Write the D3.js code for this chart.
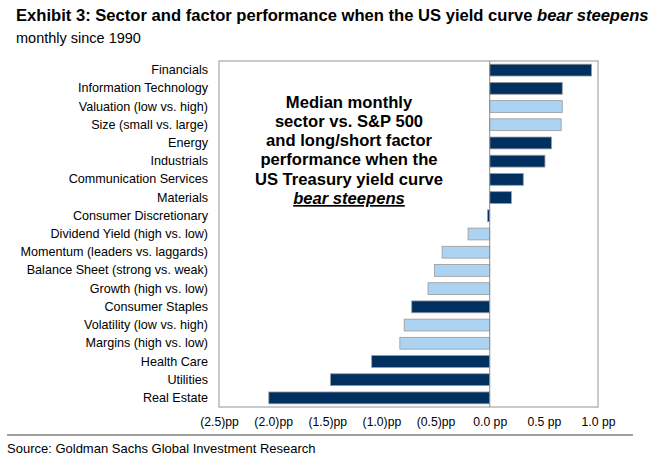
<!DOCTYPE html>
<html><head><meta charset="utf-8">
<script src="https://cdn.jsdelivr.net/npm/d3@7"></script>
<style>body{margin:0;background:#fff;} svg{display:block;font-family:"Liberation Sans",Arial,sans-serif;}</style>
</head><body>
<svg id="c" width="654" height="460"></svg>
<script>
const categories = ["Financials","Information Technology","Valuation (low vs. high)","Size (small vs. large)","Energy","Industrials","Communication Services","Materials","Consumer Discretionary","Dividend Yield (high vs. low)","Momentum (leaders vs. laggards)","Balance Sheet (strong vs. weak)","Growth (high vs. low)","Consumer Staples","Volatility (low vs. high)","Margins (high vs. low)","Health Care","Utilities","Real Estate"];
const values = [0.94,0.67,0.67,0.66,0.57,0.51,0.31,0.20,-0.02,-0.20,-0.44,-0.51,-0.57,-0.72,-0.79,-0.83,-1.09,-1.47,-2.04];
const kinds = ["sector","sector","factor","factor","sector","sector","sector","sector","sector","factor","factor","factor","factor","sector","factor","factor","sector","sector","sector"];
const tickValues = [-2.5,-2.0,-1.5,-1.0,-0.5,0,0.5,1.0];
const tickLabels = ["(2.5)pp","(2.0)pp","(1.5)pp","(1.0)pp","(0.5)pp","0.0 pp","0.5 pp","1.0 pp"];
const noteLines = ["Median monthly","sector vs. S&P 500","and long/short factor","performance when the","US Treasury yield curve","bear steepens"];

const svg = d3.select("#c");
const L = 219, R = 598, T = 61, B = 407;
const x = d3.scaleLinear().domain([-2.5,1.0]).range([L,R]);
const y = d3.scaleBand().domain(categories).range([T,B]).paddingInner(0.35).paddingOuter(0.175);
const color = {sector:"#00305f", factor:"#acd3f1"};

// title
const title = svg.append("text").attr("x",16).attr("y",21).attr("font-size",16.6).attr("font-weight","bold").attr("fill","#000");
title.append("tspan").text("Exhibit 3: Sector and factor performance when the US yield curve ");
title.append("tspan").attr("font-style","italic").text("bear steepens");
svg.append("text").attr("x",16).attr("y",43).attr("font-size",14.5).attr("fill","#000").text("monthly since 1990");

// frame
svg.append("rect").attr("x",L).attr("y",T).attr("width",R-L).attr("height",B-T)
  .attr("fill","none").attr("stroke","#a6a6a6").attr("stroke-width",1.2);

// bars
svg.selectAll("rect.bar").data(categories).enter().append("rect").attr("class","bar")
  .attr("x",(d,i)=>x(Math.min(0,values[i])))
  .attr("width",(d,i)=>Math.abs(x(values[i])-x(0)))
  .attr("y",d=>y(d)).attr("height",y.bandwidth())
  .attr("fill",(d,i)=>color[kinds[i]])
  .attr("stroke","#9a9a9a").attr("stroke-width",0.8);

// zero line
svg.append("line").attr("x1",x(0)).attr("x2",x(0)).attr("y1",T).attr("y2",B)
  .attr("stroke","#8c8c8c").attr("stroke-width",1);

// category labels
const yAxis = d3.axisLeft(y).tickSize(0).tickPadding(0);
const ya = svg.append("g").attr("transform",`translate(${L-11},0)`).call(yAxis);
ya.select(".domain").remove();
ya.selectAll("text").attr("font-size",12.6).attr("fill","#000").attr("font-family","Liberation Sans, Arial, sans-serif");

// x axis labels
const xAxis = d3.axisBottom(x).tickValues(tickValues).tickFormat((d,i)=>tickLabels[i]).tickSize(0).tickPadding(0);
const xa = svg.append("g").attr("transform",`translate(0,${B+19})`).call(xAxis);
xa.select(".domain").remove();
xa.selectAll("text").attr("font-size",12.2).attr("fill","#000").attr("font-family","Liberation Sans, Arial, sans-serif").attr("dy","0");

// annotation
const note = svg.append("text").attr("text-anchor","middle").attr("font-size",16.6).attr("font-weight","bold").attr("fill","#000");
noteLines.forEach((t,i)=>{
  const ts = note.append("tspan").attr("x",349).attr("y",107.5+i*19.3).text(t);
  if(i===noteLines.length-1) ts.attr("font-style","italic").attr("text-decoration","underline");
});

// separator and source
svg.append("line").attr("x1",7).attr("x2",633).attr("y1",435).attr("y2",435).attr("stroke","#a0a0a0").attr("stroke-width",2);
svg.append("text").attr("x",7).attr("y",453).attr("font-size",13).attr("fill","#000").text("Source: Goldman Sachs Global Investment Research");
</script>
</body></html>
